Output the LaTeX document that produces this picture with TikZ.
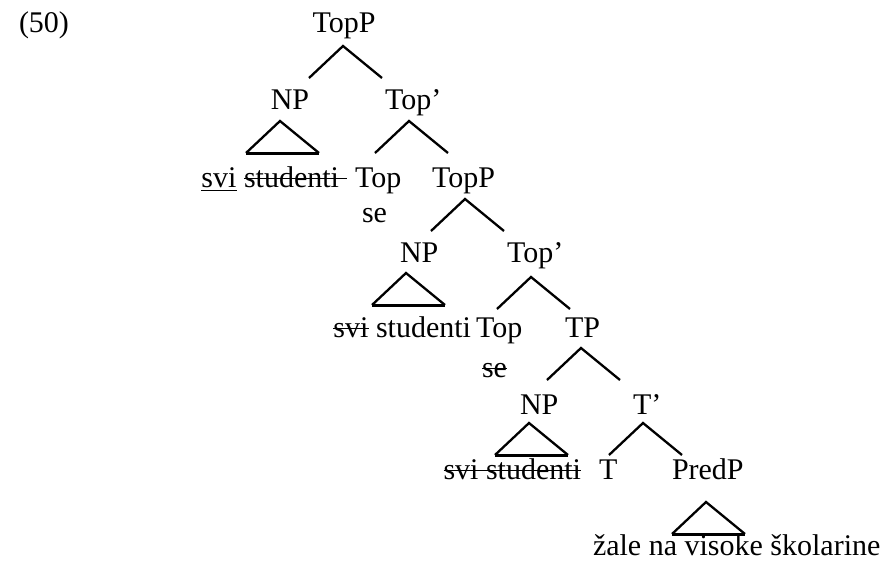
\documentclass[tikz,border=0pt]{standalone}
\usepackage{fontspec}
\setmainfont{Liberation Serif}
\begin{document}
\begin{tikzpicture}[x=1pt,y=-1pt,
  lbl/.style={inner sep=0pt,outer sep=0pt,anchor=base west,font=\fontsize{30}{36}\selectfont},
  br/.style={line width=2.3pt,line cap=butt,line join=miter},
  trbase/.style={line width=3pt,line cap=butt},
  strk/.style={line width=1.5pt},
  undl/.style={line width=1.3pt}]
\useasboundingbox (0,0) rectangle (883,566);

% example number
\node[lbl] (ex) at (19,32) {(50)};

% labels, row by row
\node[lbl,anchor=base] (topp1) at (344,32) {TopP};
\node[lbl,anchor=base] (np1) at (290,109) {NP};
\node[lbl] (topbar1) at (385,109) {Top’};

\node[lbl,anchor=base east] (stud1) at (339,187) {studenti};
\node[lbl,anchor=base east] (svi1) at ([xshift=-7.5pt]stud1.base west) {svi};
\node[lbl] (top1) at (355,187) {Top};
\node[lbl] (se1) at (362,222) {se};
\node[lbl] (topp2) at (432,187) {TopP};

\node[lbl] (np2) at (400,262) {NP};
\node[lbl] (topbar2) at (507,262) {Top’};

\node[lbl,anchor=base east] (stud2) at (471,337) {studenti};
\node[lbl,anchor=base east] (svi2) at ([xshift=-7.5pt]stud2.base west) {svi};
\node[lbl] (top2) at (476,337) {Top};
\node[lbl] (se2) at (482,377) {se};
\node[lbl] (tp) at (565,337) {TP};

\node[lbl] (np3) at (520,414) {NP};
\node[lbl] (tbar) at (633,414) {T’};

\node[lbl,anchor=base east] (stud3) at (581,479) {studenti};
\node[lbl,anchor=base east] (svi3) at ([xshift=-7.5pt]stud3.base west) {svi};
\node[lbl] (t) at (599,479) {T};
\node[lbl] (predp) at (672,479) {PredP};

\node[lbl] (vp) at (593,555) {žale na visoke školarine};

% branch apexes
\coordinate (b1) at (343,46);
\coordinate (b2) at (409,121);
\coordinate (b3) at (465,199);
\coordinate (b4) at (531,277);
\coordinate (b5) at (581,348);
\coordinate (b6) at (643,423);
% triangle apexes
\coordinate (r1) at (280,121);
\coordinate (r2) at (406,273);
\coordinate (r3) at (529,423);
\coordinate (r4) at (706,502);

\foreach \n in {b1,b2,b3,b4,b5,b6,r1,r2,r3,r4}{
  \coordinate (\n l) at ([shift={(-34,32)}]\n);
  \coordinate (\n r) at ([shift={(39,32)}]\n);
}

\foreach \n in {b1,b2,b3,b4,b5,b6}
  \draw[br] (\n l) -- (\n) -- (\n r);
\foreach \n in {r1,r2,r3,r4}{
  \draw[br] (\n l) -- (\n) -- (\n r);
  \draw[trbase] (\n l) -- (\n r);
}

% underline and strike-outs
\draw[undl] ([yshift=-3.5pt]svi1.base west) -- ([yshift=-3.5pt]svi1.base east);
\draw[strk] ([yshift=8.5pt]stud1.base west) -- ([yshift=8.5pt,xshift=8pt]stud1.base east);
\draw[strk] ([yshift=8.5pt]svi2.base west) -- ([yshift=8.5pt]svi2.base east);
\draw[strk] ([yshift=8.5pt]se2.base west) -- ([yshift=8.5pt]se2.base east);
\draw[strk] ([yshift=8.5pt]svi3.base west) -- ([yshift=8.5pt]stud3.base east);
\end{tikzpicture}
\end{document}
